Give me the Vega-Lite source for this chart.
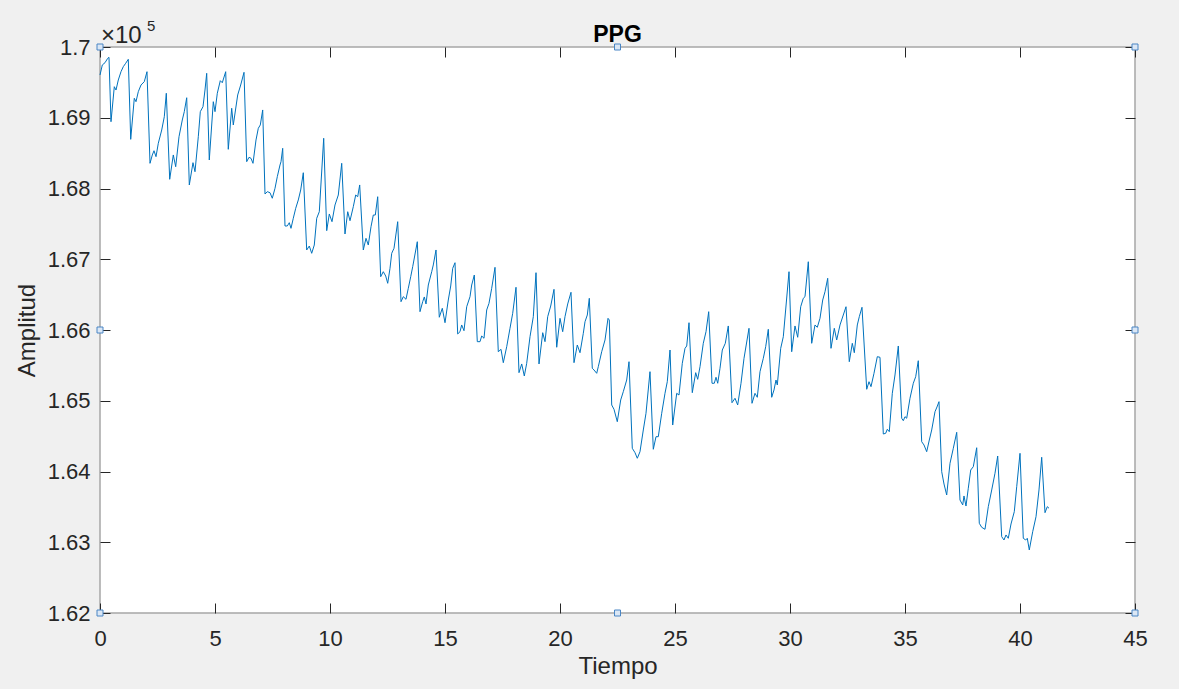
{
  "$schema": "https://vega.github.io/schema/vega-lite/v6.json",
  "width": 1035,
  "height": 566,
  "autosize": "none",
  "padding": {"left": 100, "top": 47, "right": 44, "bottom": 76},
  "background": "#f0f0f0",
  "config": {
    "font": "Liberation Sans",
    "view": {"fill": "white", "stroke": "#a6a6a6", "strokeWidth": 1.5},
    "axis": {
      "grid": false,
      "domain": false,
      "labelFlush": false,
      "tickColor": "#262626",
      "tickSize": -10,
      "tickWidth": 1,
      "labelColor": "#262626",
      "labelFontSize": 22,
      "labelFont": "Liberation Sans",
      "titleColor": "#262626",
      "titleFontSize": 24,
      "titleFontWeight": "normal",
      "titleFont": "Liberation Sans"
    }
  },
  "title": {"text": "PPG", "fontSize": 23, "fontWeight": "bold", "color": "black", "offset": -28, "anchor": "middle", "font": "Liberation Sans"},
  "datasets": {
    "ppg": [
      {"t":0,"v":169604},{"t":0.1,"v":169746},{"t":0.217,"v":169778},{"t":0.335,"v":169840},{"t":0.391,"v":169854},{"t":0.478,"v":168944},{"t":0.622,"v":169439},{"t":0.696,"v":169392},{"t":0.796,"v":169534},{"t":0.913,"v":169651},{"t":1.013,"v":169722},{"t":1.117,"v":169770},{"t":1.23,"v":169826},{"t":1.335,"v":168695},{"t":1.491,"v":169275},{"t":1.565,"v":169227},{"t":1.665,"v":169368},{"t":1.783,"v":169463},{"t":1.926,"v":169510},{"t":2.043,"v":169651},
      {"t":2.174,"v":168356},{"t":2.274,"v":168474},{"t":2.348,"v":168534},{"t":2.435,"v":168450},{"t":2.535,"v":168639},{"t":2.683,"v":168827},{"t":2.796,"v":169015},{"t":2.883,"v":169346},{"t":3.03,"v":168130},{"t":3.187,"v":168474},{"t":3.291,"v":168308},{"t":3.435,"v":168732},{"t":3.578,"v":168968},{"t":3.665,"v":169086},{"t":3.77,"v":169283},{"t":3.883,"v":168050},{"t":4.043,"v":168365},{"t":4.13,"v":168237},{"t":4.274,"v":168732},{"t":4.361,"v":169086},
      {"t":4.478,"v":169156},{"t":4.565,"v":169392},{"t":4.639,"v":169628},{"t":4.752,"v":168403},{"t":4.926,"v":169227},{"t":5.0,"v":169086},{"t":5.1,"v":169346},{"t":5.23,"v":169524},{"t":5.317,"v":169495},{"t":5.465,"v":169651},{"t":5.578,"v":168554},{"t":5.726,"v":169134},{"t":5.796,"v":168898},{"t":5.987,"v":169322},{"t":6.117,"v":169463},{"t":6.261,"v":169642},{"t":6.378,"v":168379},{"t":6.478,"v":168441},{"t":6.565,"v":168427},{"t":6.652,"v":168356},
      {"t":6.783,"v":168686},{"t":6.883,"v":168851},{"t":6.97,"v":168898},{"t":7.074,"v":169110},{"t":7.174,"v":167922},{"t":7.274,"v":167955},{"t":7.391,"v":167941},{"t":7.491,"v":167862},{"t":7.609,"v":168003},{"t":7.709,"v":168167},{"t":7.826,"v":168332},{"t":7.87,"v":168379},{"t":7.943,"v":168568},{"t":8.043,"v":167470},{"t":8.143,"v":167470},{"t":8.23,"v":167517},{"t":8.304,"v":167437},{"t":8.404,"v":167579},{"t":8.509,"v":167720},{"t":8.622,"v":167838},
      {"t":8.726,"v":167979},{"t":8.839,"v":168223},{"t":8.987,"v":167131},{"t":9.1,"v":167187},{"t":9.204,"v":167084},{"t":9.317,"v":167201},{"t":9.422,"v":167579},{"t":9.535,"v":167672},{"t":9.726,"v":168710},{"t":9.857,"v":167404},{"t":9.97,"v":167640},{"t":10.087,"v":167531},{"t":10.217,"v":167767},{"t":10.361,"v":167908},{"t":10.509,"v":168356},{"t":10.652,"v":167357},{"t":10.77,"v":167672},{"t":10.87,"v":167545},{"t":11.013,"v":167743},{"t":11.117,"v":167908},
      {"t":11.204,"v":167884},{"t":11.291,"v":168050},{"t":11.448,"v":167131},{"t":11.565,"v":167296},{"t":11.665,"v":167201},{"t":11.783,"v":167460},{"t":11.883,"v":167625},{"t":11.97,"v":167625},{"t":12.074,"v":167884},{"t":12.204,"v":166753},{"t":12.317,"v":166824},{"t":12.422,"v":166763},{"t":12.509,"v":166660},{"t":12.609,"v":166872},{"t":12.683,"v":167084},{"t":12.783,"v":167155},{"t":12.943,"v":167531},{"t":13.087,"v":166400},{"t":13.187,"v":166471},{"t":13.304,"v":166434},
      {"t":13.404,"v":166589},{"t":13.509,"v":166753},{"t":13.596,"v":166895},{"t":13.796,"v":167248},{"t":13.913,"v":166259},{"t":14.03,"v":166400},{"t":14.1,"v":166467},{"t":14.174,"v":166368},{"t":14.274,"v":166636},{"t":14.422,"v":166824},{"t":14.491,"v":166919},{"t":14.609,"v":167131},{"t":14.752,"v":166180},{"t":14.883,"v":166307},{"t":15.0,"v":166103},{"t":15.143,"v":166424},{"t":15.248,"v":166622},{"t":15.335,"v":166872},{"t":15.435,"v":166951},{"t":15.552,"v":165944},
      {"t":15.652,"v":165976},{"t":15.726,"v":166071},{"t":15.826,"v":165990},{"t":15.943,"v":166329},{"t":16.087,"v":166471},{"t":16.161,"v":166636},{"t":16.274,"v":166777},{"t":16.404,"v":165835},{"t":16.522,"v":165835},{"t":16.596,"v":165915},{"t":16.696,"v":165883},{"t":16.813,"v":166283},{"t":16.913,"v":166377},{"t":17.03,"v":166589},{"t":17.174,"v":166886},{"t":17.317,"v":165693},{"t":17.435,"v":165727},{"t":17.535,"v":165538},{"t":17.683,"v":165764},{"t":17.826,"v":166024},
      {"t":17.943,"v":166236},{"t":18.087,"v":166604},{"t":18.217,"v":165397},{"t":18.335,"v":165520},{"t":18.448,"v":165350},{"t":18.552,"v":165529},{"t":18.696,"v":165905},{"t":18.839,"v":166188},{"t":18.957,"v":166810},{"t":19.087,"v":165520},{"t":19.248,"v":165962},{"t":19.348,"v":165835},{"t":19.465,"v":166188},{"t":19.596,"v":166339},{"t":19.739,"v":166575},{"t":19.857,"v":165756},{"t":20.0,"v":166165},{"t":20.117,"v":165976},{"t":20.217,"v":166188},{"t":20.335,"v":166368},
      {"t":20.478,"v":166533},{"t":20.609,"v":165538},{"t":20.752,"v":165788},{"t":20.87,"v":165679},{"t":21.013,"v":165953},{"t":21.087,"v":166117},{"t":21.187,"v":166212},{"t":21.274,"v":166448},{"t":21.404,"v":165459},{"t":21.478,"v":165435},{"t":21.596,"v":165388},{"t":21.665,"v":165481},{"t":21.813,"v":165693},{"t":21.957,"v":165859},{"t":22.087,"v":166165},{"t":22.143,"v":166141},{"t":22.248,"v":164940},{"t":22.348,"v":164879},{"t":22.491,"v":164704},{"t":22.639,"v":165011},
      {"t":22.752,"v":165128},{"t":22.9,"v":165293},{"t":23.0,"v":165552},{"t":23.143,"v":164328},{"t":23.261,"v":164266},{"t":23.361,"v":164187},{"t":23.478,"v":164280},{"t":23.622,"v":164587},{"t":23.739,"v":164823},{"t":23.913,"v":165411},{"t":24.057,"v":164314},{"t":24.174,"v":164492},{"t":24.274,"v":164492},{"t":24.422,"v":164823},{"t":24.565,"v":165105},{"t":24.665,"v":165269},{"t":24.783,"v":165717},{"t":24.9,"v":164657},{"t":25.074,"v":165105},{"t":25.174,"v":165081},
      {"t":25.317,"v":165529},{"t":25.435,"v":165741},{"t":25.509,"v":165774},{"t":25.609,"v":166103},{"t":25.752,"v":165114},{"t":25.9,"v":165397},{"t":25.987,"v":165303},{"t":26.087,"v":165481},{"t":26.23,"v":165812},{"t":26.348,"v":165976},{"t":26.465,"v":166259},{"t":26.609,"v":165247},{"t":26.709,"v":165247},{"t":26.783,"v":165332},{"t":26.857,"v":165247},{"t":26.957,"v":165459},{"t":27.057,"v":165717},{"t":27.187,"v":165812},{"t":27.317,"v":166057},{"t":27.478,"v":164972},
      {"t":27.609,"v":165035},{"t":27.726,"v":164940},{"t":27.87,"v":165247},{"t":28.0,"v":165600},{"t":28.217,"v":166024},{"t":28.348,"v":164964},{"t":28.478,"v":165105},{"t":28.578,"v":165049},{"t":28.696,"v":165411},{"t":28.839,"v":165600},{"t":28.943,"v":165764},{"t":29.057,"v":166010},{"t":29.204,"v":165049},{"t":29.304,"v":165152},{"t":29.391,"v":165293},{"t":29.448,"v":165223},{"t":29.596,"v":165741},{"t":29.709,"v":165905},{"t":29.957,"v":166824},{"t":30.074,"v":165693},
      {"t":30.217,"v":166057},{"t":30.335,"v":165897},{"t":30.465,"v":166329},{"t":30.578,"v":166448},{"t":30.652,"v":166471},{"t":30.796,"v":166965},{"t":30.943,"v":165812},{"t":31.087,"v":166071},{"t":31.187,"v":166038},{"t":31.304,"v":166165},{"t":31.422,"v":166424},{"t":31.522,"v":166541},{"t":31.639,"v":166731},{"t":31.783,"v":165741},{"t":31.926,"v":166024},{"t":32.03,"v":165859},{"t":32.174,"v":166071},{"t":32.317,"v":166212},{"t":32.435,"v":166329},{"t":32.578,"v":165552},
      {"t":32.709,"v":165812},{"t":32.796,"v":165679},{"t":32.926,"v":166071},{"t":33.013,"v":166188},{"t":33.13,"v":166321},{"t":33.335,"v":165162},{"t":33.435,"v":165269},{"t":33.522,"v":165199},{"t":33.652,"v":165388},{"t":33.796,"v":165623},{"t":33.913,"v":165614},{"t":34.057,"v":164530},{"t":34.161,"v":164540},{"t":34.23,"v":164597},{"t":34.317,"v":164563},{"t":34.448,"v":165105},{"t":34.565,"v":165364},{"t":34.709,"v":165774},{"t":34.857,"v":164752},{"t":34.926,"v":164718},
      {"t":35.0,"v":164775},{"t":35.074,"v":164752},{"t":35.217,"v":165035},{"t":35.361,"v":165247},{"t":35.465,"v":165340},{"t":35.578,"v":165566},{"t":35.726,"v":164421},{"t":35.826,"v":164375},{"t":35.943,"v":164280},{"t":36.057,"v":164445},{"t":36.161,"v":164587},{"t":36.304,"v":164845},{"t":36.391,"v":164912},{"t":36.478,"v":164987},{"t":36.596,"v":163997},{"t":36.696,"v":163823},{"t":36.813,"v":163668},{"t":36.957,"v":164116},{"t":37.1,"v":164328},{"t":37.248,"v":164554},
      {"t":37.391,"v":163597},{"t":37.509,"v":163527},{"t":37.565,"v":163654},{"t":37.652,"v":163512},{"t":37.752,"v":163763},{"t":37.857,"v":164021},{"t":37.97,"v":164068},{"t":38.117,"v":164336},{"t":38.23,"v":163268},{"t":38.335,"v":163211},{"t":38.478,"v":163183},{"t":38.622,"v":163503},{"t":38.77,"v":163739},{"t":38.913,"v":163975},{"t":39.03,"v":164219},{"t":39.204,"v":163079},{"t":39.304,"v":163032},{"t":39.391,"v":163103},{"t":39.491,"v":163056},{"t":39.609,"v":163258},
      {"t":39.752,"v":163432},{"t":39.857,"v":163785},{"t":40.0,"v":164257},{"t":40.143,"v":163056},{"t":40.248,"v":163032},{"t":40.317,"v":163056},{"t":40.404,"v":162891},{"t":40.552,"v":163149},{"t":40.696,"v":163361},{"t":40.826,"v":163739},{"t":40.943,"v":164201},{"t":41.087,"v":163418},{"t":41.187,"v":163503},{"t":41.261,"v":163480}
    ],
    "handles": [
      {"t":0,"v":162000},{"t":22.5,"v":162000},{"t":45,"v":162000},
      {"t":0,"v":166000},{"t":45,"v":166000},
      {"t":0,"v":170000},{"t":22.5,"v":170000},{"t":45,"v":170000}
    ],
    "exponent": [
      {"t":0,"v":170000,"base":"×10","power":"5"}
    ]
  },
  "layer": [
    {
      "data": {"name": "ppg"},
      "mark": {"type": "line", "color": "#0072BD", "strokeWidth": 1, "interpolate": "linear"},
      "encoding": {
        "x": {"field": "t", "type": "quantitative", "scale": {"domain": [0, 45], "nice": false, "zero": false},
              "axis": {"orient": "bottom", "values": [0,5,10,15,20,25,30,35,40,45], "title": "Tiempo", "labelPadding": 25, "titlePadding": 5, "labelFlush": false}},
        "y": {"field": "v", "type": "quantitative", "scale": {"domain": [162000, 170000], "nice": false, "zero": false},
              "axis": {"orient": "left", "values": [162000,163000,164000,165000,166000,167000,168000,169000,170000],
                       "labelExpr": "format(datum.value/100000, '.3~r')", "title": "Amplitud", "labelPadding": 20, "titlePadding": 8, "labelFlush": false}}
      }
    },
    {
      "data": {"name": "handles"},
      "mark": {"type": "square", "size": 36, "fill": "#dbe7f5", "stroke": "#4a86c5", "strokeWidth": 1, "opacity": 1},
      "encoding": {
        "x": {"field": "t", "type": "quantitative",
              "axis": {"orient": "top", "values": [0,5,10,15,20,25,30,35,40,45], "labels": false, "title": null}},
        "y": {"field": "v", "type": "quantitative",
              "axis": {"orient": "right", "values": [162000,163000,164000,165000,166000,167000,168000,169000,170000], "labels": false, "title": null}}
      }
    },
    {
      "data": {"name": "exponent"},
      "mark": {"type": "text", "align": "left", "baseline": "alphabetic", "dx": 1, "dy": -4, "fontSize": 24, "color": "#262626", "font": "Liberation Sans"},
      "encoding": {
        "x": {"field": "t", "type": "quantitative", "axis": null},
        "y": {"field": "v", "type": "quantitative", "axis": null},
        "text": {"field": "base"}
      }
    },
    {
      "data": {"name": "exponent"},
      "mark": {"type": "text", "align": "left", "baseline": "alphabetic", "dx": 47, "dy": -16, "fontSize": 15, "color": "#262626", "font": "Liberation Sans"},
      "encoding": {
        "x": {"field": "t", "type": "quantitative", "axis": null},
        "y": {"field": "v", "type": "quantitative", "axis": null},
        "text": {"field": "power"}
      }
    }
  ],
  "resolve": {"axis": {"x": "independent", "y": "independent"}}
}
